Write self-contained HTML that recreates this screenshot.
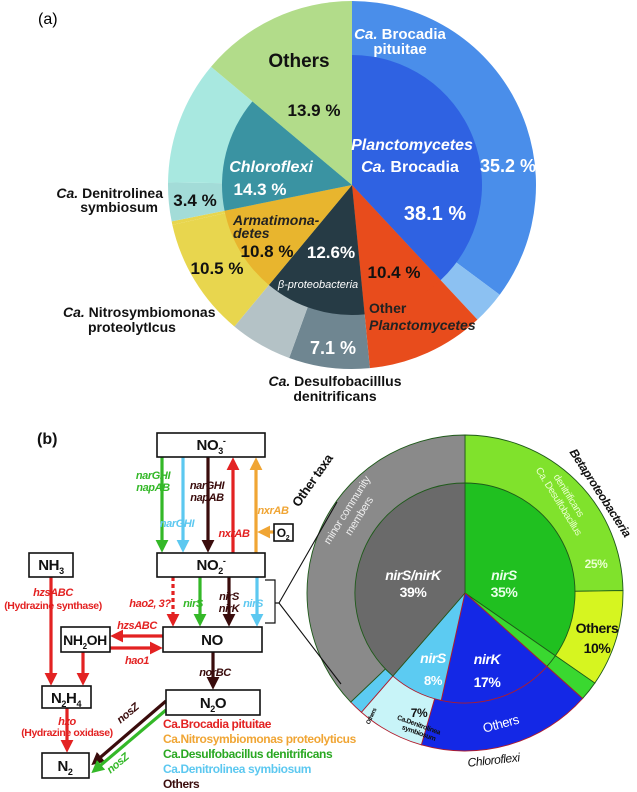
<!DOCTYPE html>
<html><head><meta charset="utf-8"><style>
body{margin:0;background:#fff}
svg{display:block}
text{font-family:"Liberation Sans Narrow","Liberation Sans",sans-serif;font-weight:bold}
#diagram text,#labelsB text{letter-spacing:-0.4px}
</style></head><body>
<svg id="fig" width="637" height="792" viewBox="0 0 637 792" xmlns="http://www.w3.org/2000/svg">
<defs>
<marker id="mr" markerWidth="4" markerHeight="4" refX="2.5" refY="2" orient="auto" markerUnits="strokeWidth"><path d="M0,0 L4,2 L0,4z" fill="#e32222"/></marker>
<marker id="mg" markerWidth="4" markerHeight="4" refX="2.5" refY="2" orient="auto" markerUnits="strokeWidth"><path d="M0,0 L4,2 L0,4z" fill="#34b828"/></marker>
<marker id="mc" markerWidth="4" markerHeight="4" refX="2.5" refY="2" orient="auto" markerUnits="strokeWidth"><path d="M0,0 L4,2 L0,4z" fill="#5cc8f0"/></marker>
<marker id="md" markerWidth="4" markerHeight="4" refX="2.5" refY="2" orient="auto" markerUnits="strokeWidth"><path d="M0,0 L4,2 L0,4z" fill="#3a0c0c"/></marker>
<marker id="mo" markerWidth="4" markerHeight="4" refX="2.5" refY="2" orient="auto" markerUnits="strokeWidth"><path d="M0,0 L4,2 L0,4z" fill="#f0a534"/></marker>
</defs>
<g id="pieA"></g>
<g id="pieB"></g>
<g id="labels">
<text x="38" y="24" font-size="16" style="font-weight:normal;font-family:'Liberation Sans',sans-serif">(a)</text>
<g font-size="17" text-anchor="middle">
<text x="299" y="67" font-size="19" fill="#111">Others</text>
<text x="314" y="116" fill="#111">13.9 %</text>
<text x="400" y="39" font-size="15" fill="#fff"><tspan font-style="italic">Ca.</tspan> Brocadia</text>
<text x="400" y="54" font-size="15" fill="#fff">pituitae</text>
<text x="412" y="150" font-size="16" fill="#fff" font-style="italic">Planctomycetes</text>
<text x="410" y="172" font-size="16" fill="#fff"><tspan font-style="italic">Ca.</tspan> Brocadia</text>
<text x="435" y="220" font-size="20" fill="#fff">38.1 %</text>
<text x="508" y="172" font-size="18" fill="#fff">35.2 %</text>
<text x="271" y="172" font-size="16" fill="#fff" font-style="italic">Chloroflexi</text>
<text x="260" y="195" fill="#fff">14.3 %</text>
<text x="195" y="206" fill="#111">3.4 %</text>
<text x="267" y="257" fill="#111">10.8 %</text>
<text x="331" y="258" fill="#fff">12.6%</text>
<text x="217" y="274" fill="#111">10.5 %</text>
<text x="394" y="278" fill="#111">10.4 %</text>
<text x="333" y="354" font-size="18" fill="#fff">7.1 %</text>
</g>
<text x="318" y="288" font-size="11" fill="#fff" font-style="italic" text-anchor="middle" style="font-weight:normal">β-proteobacteria</text>
<text x="233" y="225" font-size="14" fill="#222" font-style="italic">Armatimona-</text>
<text x="233" y="238" font-size="14" fill="#222" font-style="italic">detes</text>
<text x="369" y="313" font-size="14" fill="#222">Other</text>
<text x="369" y="330" font-size="14" fill="#222" font-style="italic">Planctomycetes</text>
<g font-size="14" fill="#111">
<text x="163" y="198" text-anchor="end"><tspan font-style="italic">Ca.</tspan> Denitrolinea</text>
<text x="158" y="212" text-anchor="end">symbiosum</text>
<text x="63" y="317"><tspan font-style="italic">Ca.</tspan> Nitrosymbiomonas</text>
<text x="88" y="332">proteolytIcus</text>
<text x="335" y="386" text-anchor="middle"><tspan font-style="italic">Ca.</tspan> Desulfobacilllus</text>
<text x="335" y="401" text-anchor="middle">denitrificans</text>
</g>
<text x="37" y="444" font-size="16" fill="#111">(b)</text>
</g>
<g id="diagram" font-size="11">
<g stroke-width="3.2" fill="none">
<line x1="162" y1="457" x2="162" y2="548" stroke="#34b828" marker-end="url(#mg)"/>
<line x1="183" y1="457" x2="183" y2="548" stroke="#5cc8f0" marker-end="url(#mc)"/>
<line x1="208" y1="457" x2="208" y2="548" stroke="#3a0c0c" marker-end="url(#md)"/>
<line x1="233" y1="553" x2="233" y2="462" stroke="#e32222" marker-end="url(#mr)"/>
<line x1="256" y1="553" x2="256" y2="462" stroke="#f0a534" marker-end="url(#mo)"/>
<line x1="274" y1="532" x2="262" y2="532" stroke="#f0a534" marker-end="url(#mo)"/>
<line x1="173" y1="577" x2="173" y2="622" stroke="#e32222" stroke-dasharray="4,3" marker-end="url(#mr)"/>
<line x1="200" y1="577" x2="200" y2="622" stroke="#34b828" marker-end="url(#mg)"/>
<line x1="229" y1="577" x2="229" y2="622" stroke="#3a0c0c" marker-end="url(#md)"/>
<line x1="257" y1="577" x2="257" y2="622" stroke="#5cc8f0" marker-end="url(#mc)"/>
<line x1="51" y1="577" x2="51" y2="681" stroke="#e32222" marker-end="url(#mr)"/>
<line x1="83" y1="652" x2="83" y2="681" stroke="#e32222" marker-end="url(#mr)"/>
<line x1="163" y1="636" x2="115" y2="636" stroke="#e32222" marker-end="url(#mr)"/>
<line x1="110" y1="648" x2="158" y2="648" stroke="#e32222" marker-end="url(#mr)"/>
<line x1="213" y1="652" x2="213" y2="685" stroke="#3a0c0c" marker-end="url(#md)"/>
<line x1="67" y1="708" x2="67" y2="748" stroke="#e32222" marker-end="url(#mr)"/>
<line x1="166" y1="701" x2="95" y2="762" stroke="#3a0c0c" marker-end="url(#md)"/>
<line x1="166" y1="710" x2="95" y2="770" stroke="#34b828" marker-end="url(#mg)"/>
</g>
<g fill="#fff" stroke="#111" stroke-width="1.6">
<rect x="157" y="433" width="108" height="24"/>
<rect x="157" y="553" width="108" height="24"/>
<rect x="163" y="627" width="99" height="25"/>
<rect x="166" y="690" width="94" height="25"/>
<rect x="29" y="553" width="44" height="24"/>
<rect x="61" y="627" width="49" height="25"/>
<rect x="42" y="686" width="49" height="22"/>
<rect x="42" y="753" width="47" height="25"/>
<rect x="274" y="524" width="19" height="17"/>
</g>
<g fill="#111" font-size="15" text-anchor="middle">
<text x="211" y="450">NO<tspan font-size="9" dy="4">3</tspan><tspan font-size="9" dy="-10">-</tspan></text>
<text x="211" y="570">NO<tspan font-size="9" dy="4">2</tspan><tspan font-size="9" dy="-10">-</tspan></text>
<text x="212" y="645">NO</text>
<text x="213" y="708">N<tspan font-size="9" dy="4">2</tspan><tspan dy="-4">O</tspan></text>
<text x="51" y="570">NH<tspan font-size="9" dy="4">3</tspan></text>
<text x="85" y="645" font-size="14">NH<tspan font-size="8" dy="4">2</tspan><tspan dy="-4">OH</tspan></text>
<text x="66" y="703">N<tspan font-size="9" dy="4">2</tspan><tspan dy="-4">H</tspan><tspan font-size="9" dy="4">4</tspan></text>
<text x="65" y="771">N<tspan font-size="9" dy="4">2</tspan></text>
<text x="283" y="537" font-size="12">O<tspan font-size="7" dy="3">2</tspan></text>
</g>
<g font-style="italic" text-anchor="middle" font-size="11">
<text x="153" y="479" fill="#34b828">narGHI</text>
<text x="153" y="491" fill="#34b828">napAB</text>
<text x="207" y="489" fill="#3a0c0c">narGHI</text>
<text x="207" y="501" fill="#3a0c0c">napAB</text>
<text x="177" y="527" fill="#5cc8f0">narGHI</text>
<text x="234" y="537" fill="#e32222">nxrAB</text>
<text x="273" y="514" fill="#f0a534">nxrAB</text>
<text x="150" y="607" fill="#e32222">hao2, 3?</text>
<text x="193" y="607" fill="#34b828">nirS</text>
<text x="229" y="600" fill="#3a0c0c">nirS</text>
<text x="229" y="612" fill="#3a0c0c">nirK</text>
<text x="253" y="607" fill="#5cc8f0">nirS</text>
<text x="53" y="596" fill="#e32222">hzsABC</text>
<text x="137" y="629" fill="#e32222">hzsABC</text>
<text x="137" y="664" fill="#e32222">hao1</text>
<text x="215" y="676" fill="#3a0c0c">norBC</text>
<text x="67" y="725" fill="#e32222">hzo</text>
<text x="130" y="716" fill="#3a0c0c" transform="rotate(-40 130 716)">nosZ</text>
<text x="120" y="766" fill="#34b828" transform="rotate(-40 120 766)">nosZ</text>
</g>
<text x="53" y="609" fill="#e32222" text-anchor="middle" font-size="10.5">(Hydrazine synthase)</text>
<text x="67" y="736" fill="#e32222" text-anchor="middle" font-size="10.5">(Hydrazine oxidase)</text>
<path d="M265,580 H275 V623 H265 M275,603 L279,603" fill="none" stroke="#111" stroke-width="1.2"/>
<path d="M279,603 L337,502 M279,603 L341,684" fill="none" stroke="#111" stroke-width="1.1"/>
<g font-size="12">
<text x="163" y="728" fill="#e32222">Ca.Brocadia pituitae</text>
<text x="163" y="743" fill="#f0a534">Ca.Nitrosymbiomonas proteolyticus</text>
<text x="163" y="758" fill="#2aa822">Ca.Desulfobacillus denitrificans</text>
<text x="163" y="773" fill="#5cc8f0">Ca.Denitrolinea symbiosum</text>
<text x="163" y="788" fill="#3a0c0c">Others</text>
</g>
</g>
<g id="labelsB" text-anchor="middle">
<text x="316" y="483" font-size="13" fill="#111" transform="rotate(-55 316 483)">Other taxa</text>
<text x="350" y="512" font-size="11" fill="#eee" transform="rotate(-58 350 512)" style="font-weight:normal">minor community</text>
<text x="362" y="518" font-size="11" fill="#eee" transform="rotate(-58 362 518)" style="font-weight:normal">members</text>
<text x="413" y="580" font-size="14" fill="#fff" font-style="italic">nirS/nirK</text>
<text x="413" y="597" font-size="14" fill="#fff">39%</text>
<text x="504" y="580" font-size="14" fill="#eaffea" font-style="italic">nirS</text>
<text x="504" y="597" font-size="14" fill="#eaffea">35%</text>
<text x="597" y="495" font-size="12" fill="#111" font-style="italic" transform="rotate(57 597 495)">Betaproteobacteria</text>
<text x="556" y="503" font-size="10" fill="#eaffd0" transform="rotate(58 556 503)" style="font-weight:normal">Ca. Desulfobacillus</text>
<text x="566" y="497" font-size="10" fill="#eaffd0" transform="rotate(58 566 497)" style="font-weight:normal">denitrificans</text>
<text x="596" y="568" font-size="12" fill="#eaffd0">25%</text>
<text x="597" y="633" font-size="14" fill="#111">Others</text>
<text x="597" y="653" font-size="14" fill="#111">10%</text>
<text x="487" y="664" font-size="14" fill="#fff" font-style="italic">nirK</text>
<text x="487" y="687" font-size="14" fill="#fff">17%</text>
<text x="433" y="663" font-size="14" fill="#fff" font-style="italic">nirS</text>
<text x="433" y="685" font-size="13" fill="#fff">8%</text>
<text x="419" y="717" font-size="12" fill="#111">7%</text>
<text x="418" y="727" font-size="7" fill="#111" transform="rotate(20 418 727)">Ca.Denitrolinea</text>
<text x="418" y="735" font-size="7" fill="#111" transform="rotate(20 418 735)">symbiosum</text>
<text x="502" y="728" font-size="13" fill="#fff" transform="rotate(-15 502 728)" style="font-weight:normal">Others</text>
<text x="494" y="764" font-size="12" fill="#111" font-style="italic" transform="rotate(-6 494 764)" style="font-weight:normal">Chloroflexi</text>
<text x="373" y="717" font-size="6" fill="#111" transform="rotate(-65 373 717)">Others</text>
</g>
</svg>
<script>
// Panel (a) data
const innerCatsA = ['Planctomycetes Ca. Brocadia','Other Planctomycetes','beta-proteobacteria','Armatimonadetes','Chloroflexi','Others'];
const innerValsA = [38.1, 10.4, 12.6, 10.8, 14.3, 13.9];
const innerColsA = ['#2f62e2','#e84c1c','#263b45','#e8b52e','#3a93a2','#b2dc8a'];
const outerCatsA = ['Ca. Brocadia pituitae','other Brocadia','Other Planctomycetes','Ca. Desulfobacillus','other beta','Ca. Nitrosymbiomonas','other Armatimonadetes','Ca. Denitrolinea','other Chloroflexi','Others'];
const outerValsA = [35.2, 2.9, 10.4, 7.1, 5.5, 10.5, 0.3, 3.4, 10.9, 13.9];
const outerColsA = ['#4a8eea','#8cc1f2','#e84c1c','#6f8691','#b4c2c6','#e8d64e','#e8d64e','#a3dcd8','#a8e8e0','#b2dc8a'];
// Panel (b) data
const innerCatsB = ['nirS Betaproteobacteria','nirK Betaproteobacteria','nirK Chloroflexi','nirS Chloroflexi','nirS/nirK other taxa'];
const innerValsB = [35, 2, 17, 8, 39];
const innerColsB = ['#20c020','#3ad830','#1428e6','#5ccbf2','#6a6a6a'];
const outerCatsB = ['Ca. Desulfobacillus','Others beta','small beta','Others Chloroflexi','Ca. Denitrolinea','Others small','minor community'];
const outerValsB = [25, 10, 2, 18, 7, 1.5, 37.5];
const outerColsB = ['#80e22c','#d6f520','#3ad830','#1428e6','#c8f4f8','#5ccbf2','#8a8a8a'];

const NS='http://www.w3.org/2000/svg';
function pt(cx,cy,r,a){const t=(a-90)*Math.PI/180;return [cx+r*Math.cos(t),cy+r*Math.sin(t)];}
function sector(cx,cy,r0,r1,a0,a1){
  const large=(a1-a0)>180?1:0;
  const p1=pt(cx,cy,r1,a0),p2=pt(cx,cy,r1,a1);
  if(r0<=0) return `M${cx},${cy} L${p1} A${r1},${r1} 0 ${large} 1 ${p2} Z`;
  const p3=pt(cx,cy,r0,a1),p4=pt(cx,cy,r0,a0);
  return `M${p1} A${r1},${r1} 0 ${large} 1 ${p2} L${p3} A${r0},${r0} 0 ${large} 0 ${p4} Z`;
}
function ring(g,cx,cy,r0,r1,vals,cols,cats,stroke,sw,strokeIdx){
  const tot=vals.reduce((a,b)=>a+b,0);let a=0;
  vals.forEach((v,i)=>{
    const a1=a+v/tot*360;
    const p=document.createElementNS(NS,'path');
    p.setAttribute('d',sector(cx,cy,r0,r1,a,a1));
    p.setAttribute('fill',cols[i]);
    const s=strokeIdx&&strokeIdx.includes(i)?'#b01c2c':stroke;
    if(s){p.setAttribute('stroke',s);p.setAttribute('stroke-width',sw);}
    
    
    g.appendChild(p);a=a1;
  });
}
const gA=document.getElementById('pieA');
ring(gA,352,185,0,184,outerValsA,outerColsA,outerCatsA,null,0);
ring(gA,352,185,0,130,innerValsA,innerColsA,innerCatsA,null,0);
const gB=document.getElementById('pieB');
ring(gB,465,593,0,158,outerValsB,outerColsB,outerCatsB,'#1f5a1a',0.9,[3,4,5]);
ring(gB,465,593,0,110,innerValsB,innerColsB,innerCatsB,'#1f5a1a',0.9,[2,3]);
</script>
</body></html>
